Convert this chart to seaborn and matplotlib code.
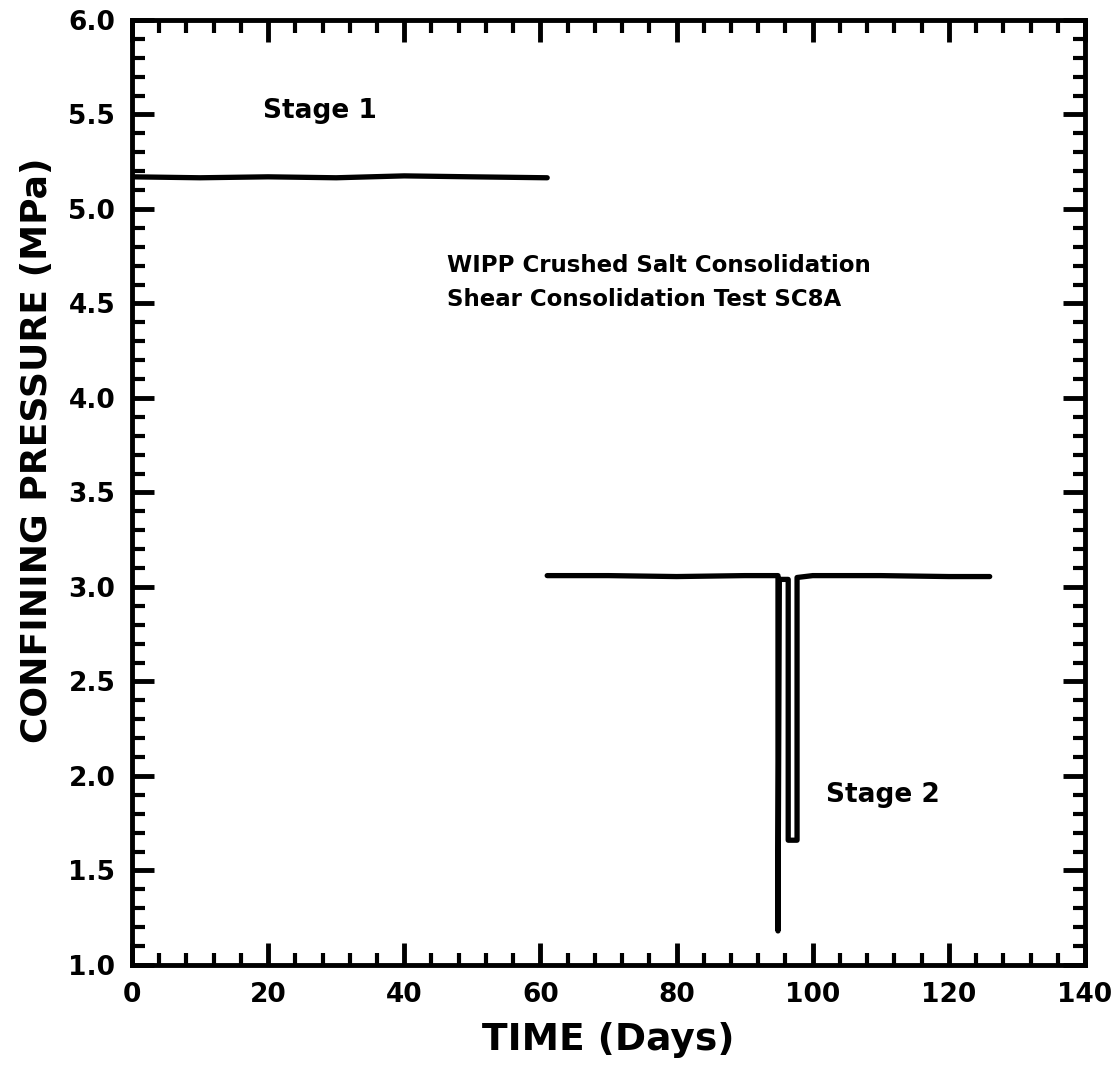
import matplotlib
matplotlib.use("Agg")
import matplotlib.pyplot as plt
from matplotlib.ticker import MultipleLocator
import pandas as pd
import seaborn as sns

# Stage 1: constant confining pressure
stage1_days = [0.0, 10.0, 20.0, 30.0, 40.0, 50.0, 61.0]
stage1_mpa = [5.17, 5.165, 5.17, 5.165, 5.175, 5.17, 5.165]

# Stage 2: reduced pressure with two short unloading excursions
stage2_days = [61.0, 70.0, 80.0, 90.0, 94.9, 94.9, 95.1, 96.4, 96.4, 97.7, 97.7, 100.0, 110.0, 120.0, 126.0]
stage2_mpa = [3.06, 3.06, 3.055, 3.06, 3.06, 1.18, 3.04, 3.04, 1.66, 1.66, 3.05, 3.06, 3.06, 3.055, 3.055]

df = pd.concat([
    pd.DataFrame({"days": stage1_days, "mpa": stage1_mpa, "stage": "Stage 1"}),
    pd.DataFrame({"days": stage2_days, "mpa": stage2_mpa, "stage": "Stage 2"}),
], ignore_index=True)

sns.set_theme(style="ticks")
plt.rcParams["font.family"] = ["DejaVu Sans"]
plt.rcParams["font.weight"] = "bold"
for key in ("text.color", "axes.labelcolor", "xtick.color", "ytick.color", "axes.edgecolor"):
    plt.rcParams[key] = "black"

fig = plt.figure(figsize=(11.18, 10.73), dpi=100)
ax = fig.add_axes([0.118, 0.1007, 0.8525, 0.8807])

sns.lineplot(data=df, x="days", y="mpa", units="stage", estimator=None, sort=False,
             color="black", linewidth=3.8, ax=ax, legend=False)

ax.set_xlim(0, 140)
ax.set_ylim(1.0, 6.0)
ax.xaxis.set_major_locator(MultipleLocator(20))
ax.xaxis.set_minor_locator(MultipleLocator(4))
ax.yaxis.set_major_locator(MultipleLocator(0.5))
ax.yaxis.set_minor_locator(MultipleLocator(0.1))
ax.set_xticklabels([f"{v:g}" for v in ax.get_xticks()])
ax.set_yticklabels([f"{v:.1f}" for v in ax.get_yticks()])

ax.tick_params(which="both", direction="in", top=True, right=True, color="black")
ax.tick_params(which="major", length=16, width=3.5, labelsize=19, pad=12)
ax.tick_params(which="minor", length=9, width=3)
for lbl in ax.get_xticklabels() + ax.get_yticklabels():
    lbl.set_fontweight("bold")
for sp in ax.spines.values():
    sp.set_linewidth(3.5)

ax.set_xlabel("TIME (Days)", fontsize=27, fontweight="bold", labelpad=10)
ax.set_ylabel("CONFINING PRESSURE (MPa)", fontsize=26, fontweight="bold")
ax.yaxis.set_label_coords(-0.082, 0.545)

ax.text(19.2, 5.52, "Stage 1", fontsize=19, fontweight="bold", va="center", ha="left")
ax.text(46.3, 4.70, "WIPP Crushed Salt Consolidation", fontsize=16.5, fontweight="bold",
        va="center", ha="left")
ax.text(46.3, 4.52, "Shear Consolidation Test SC8A", fontsize=16.5, fontweight="bold",
        va="center", ha="left")
ax.text(102.0, 1.90, "Stage 2", fontsize=19, fontweight="bold", va="center", ha="left")

fig.savefig("out.png", dpi=100, facecolor="white")
